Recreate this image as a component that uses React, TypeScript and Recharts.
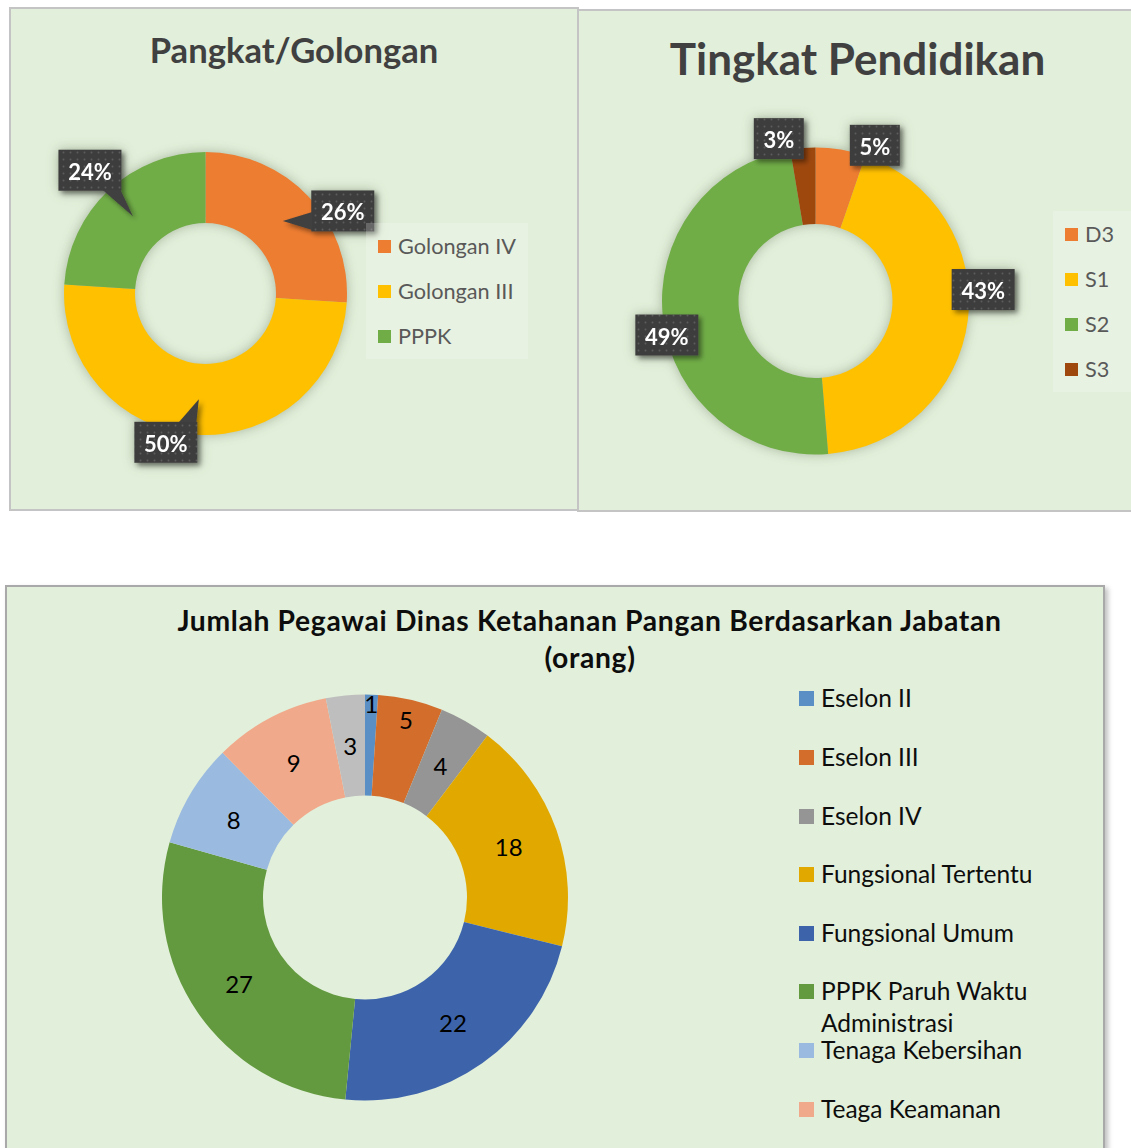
import React from 'react'
import { PieChart, Pie, Cell } from 'recharts'

const golonganLabels = ['Golongan IV', 'Golongan III', 'PPPK']
const golonganPersen = [26, 50, 24]

// slice angles match head counts out of 76 (shown as rounded percentages)
const pendidikanLabels = ['D3', 'S1', 'S2', 'S3']
const pendidikanJumlah = [4, 33, 37, 2]

const jabatanLabels = [
  'Eselon II',
  'Eselon III',
  'Eselon IV',
  'Fungsional Tertentu',
  'Fungsional Umum',
  'PPPK Paruh Waktu Administrasi',
  'Tenaga Kebersihan',
  'Teaga Keamanan',
  'Lainnya',
]
const jabatanJumlah = [1, 5, 4, 18, 22, 27, 8, 9, 3]

const golonganColors = ['#ED7D31', '#FFC000', '#70AD47']
const pendidikanColors = ['#ED7D31', '#FFC000', '#70AD47', '#9E480E']
const jabatanColors = [
  '#5A8FC6',
  '#D36D2C',
  '#959595',
  '#E1A900',
  '#3D64AB',
  '#639A3F',
  '#9ABAE0',
  '#F0A98A',
  '#BEBEBE',
]

// excel nudged some of the data labels away from their default spot
const golonganShift: [number, number][] = [[60, -10], [-33, 43], [-43, -46]]
const pendidikanShift: [number, number][] = [[32, 8], [3, -32], [16, 13.5], [-23, 3]]
const jabatanLift = [42, 30, 0, 0, 0, 0, 0, 0, 0]

const golonganData = golonganLabels.map((name, i) => ({ name, value: golonganPersen[i] }))
const pendidikanData = pendidikanLabels.map((name, i) => ({ name, value: pendidikanJumlah[i] }))
const jabatanData = jabatanLabels.map((name, i) => ({ name, value: jabatanJumlah[i] }))

const RADIAN = Math.PI / 180
const FONT = 'Lato, "Open Sans", sans-serif'
const NO_MARGIN = { top: 0, right: 0, bottom: 0, left: 0 }

function polar(cx: number, cy: number, r: number, angle: number) {
  return [cx + r * Math.cos(-angle * RADIAN), cy + r * Math.sin(-angle * RADIAN)]
}

function calloutLabel(shifts: [number, number][], pointer: boolean, reach: number) {
  return (props: any) => {
    const { cx, cy, midAngle, innerRadius, outerRadius, percent, index } = props
    const r = pointer ? (innerRadius + outerRadius) / 2 : outerRadius * reach
    const [ax, ay] = polar(cx, cy, r, midAngle)
    const [dx, dy] = shifts[index]
    const text = `${Math.round(percent * 100)}%`
    const w = text.length > 2 ? 63 : 50
    const h = 41
    const bx = ax + dx
    const by = ay + dy
    const left = bx - w / 2
    const top = by - h / 2
    let wedge: string | null = null
    if (pointer) {
      const half = 9
      if (Math.abs(ax - bx) / w > Math.abs(ay - by) / h) {
        const ex = ax < bx ? left + 1 : left + w - 1
        const my = Math.max(top + half + 1, Math.min(top + h - half - 1, ay))
        wedge = `${ax},${ay} ${ex},${my - half} ${ex},${my + half}`
      } else {
        const ey = ay < by ? top + 1 : top + h - 1
        const mx = Math.max(left + half + 1, Math.min(left + w - half - 1, ax))
        wedge = `${ax},${ay} ${mx - half},${ey} ${mx + half},${ey}`
      }
    }
    return (
      <g key={`callout-${index}`}>
        <g filter="url(#boxShadow)">
          {wedge && <polygon points={wedge} fill="#404040" />}
          <rect x={left} y={top} width={w} height={h} fill="url(#dotFill)" />
        </g>
        <text
          x={bx}
          y={by + 1}
          textAnchor="middle"
          dominantBaseline="central"
          fill="#FFFFFF"
          fontFamily={FONT}
          fontWeight={700}
          fontSize={22}
        >
          {text}
        </text>
      </g>
    )
  }
}

const jabatanLabel = (props: any) => {
  const { cx, cy, midAngle, innerRadius, outerRadius, value, index } = props
  const [x, y] = polar(cx, cy, (innerRadius + outerRadius) / 2 + jabatanLift[index], midAngle)
  return (
    <text
      key={`jab-${index}`}
      x={x}
      y={y}
      textAnchor="middle"
      dominantBaseline="central"
      fill="#000000"
      fontFamily={FONT}
      fontSize={24}
    >
      {value}
    </text>
  )
}

function Panel({ left, top, width, height, style, children }: any) {
  return (
    <div
      style={{
        position: 'absolute',
        left,
        top,
        width,
        height,
        boxSizing: 'border-box',
        background: '#E2EFDA',
        border: '2px solid #C4C4C4',
        overflow: 'hidden',
        ...style,
      }}
    >
      {children}
    </div>
  )
}

function Title({ text, x, top, size, color, spacing = 0 }: any) {
  return (
    <div
      style={{
        position: 'absolute',
        left: x - 500,
        top,
        width: 1000,
        textAlign: 'center',
        fontFamily: FONT,
        fontWeight: 700,
        fontSize: size,
        letterSpacing: spacing,
        lineHeight: 1.2,
        color,
        whiteSpace: 'nowrap',
      }}
    >
      {text}
    </div>
  )
}

function BoxLegend({ left, top, width, height, names, colors, rows }: any) {
  return (
    <div
      style={{
        position: 'absolute',
        left,
        top,
        width,
        height,
        background: 'rgba(255,255,255,0.22)',
      }}
    >
      {names.map((name: string, i: number) => (
        <div key={name} style={{ position: 'absolute', left: 12, top: rows[i] - 13 }}>
          <span
            style={{
              position: 'absolute',
              left: 0,
              top: 6.5,
              width: 13,
              height: 13,
              background: colors[i],
            }}
          />
          <span
            style={{
              position: 'absolute',
              left: 20,
              top: 0,
              fontFamily: FONT,
              fontSize: 21.7,
              lineHeight: '26px',
              color: '#595959',
              whiteSpace: 'nowrap',
            }}
          >
            {name}
          </span>
        </div>
      ))}
    </div>
  )
}

export default function App() {
  const glow = { filter: 'drop-shadow(0 0 6px rgba(60,75,50,0.35))' }
  // bottom legend: fixed row pitch, rows past the panel edge are not drawn
  const jabatanRows = jabatanLabels
    .map((name, i) => ({ name, color: jabatanColors[i], mid: 112 + i * 58.6 }))
    .filter((row) => row.mid < 545)
  return (
    <div
      style={{
        position: 'absolute',
        left: 0,
        top: 0,
        width: 1131,
        height: 1148,
        overflow: 'hidden',
        background: '#FFFFFF',
      }}
    >
      <svg width={0} height={0} style={{ position: 'absolute' }}>
        <defs>
          <pattern id="dotFill" width={7} height={7} patternUnits="userSpaceOnUse">
            <rect width={7} height={7} fill="#3E3E3E" />
            <circle cx={3.5} cy={3.5} r={0.9} fill="#5C5C5C" />
          </pattern>
          <filter id="boxShadow" x="-40%" y="-40%" width="180%" height="180%">
            <feDropShadow dx={3} dy={3} stdDeviation={2.5} floodColor="#000" floodOpacity={0.45} />
          </filter>
        </defs>
      </svg>

      {/* Pangkat/Golongan */}
      <Panel left={9} top={7} width={570} height={504}>
        <Title text="Pangkat/Golongan" x={283} top={20} size={34.6} color="#404040" />
        <div style={{ position: 'absolute', left: 0, top: 0, ...glow }}>
          <PieChart width={566} height={500} margin={NO_MARGIN}>
            <Pie
              data={golonganData}
              dataKey="value"
              cx={194.5}
              cy={284.5}
              innerRadius={70.5}
              outerRadius={141.5}
              startAngle={90}
              endAngle={-270}
              stroke="none"
              labelLine={false}
              label={calloutLabel(golonganShift, true, 1)}
              isAnimationActive={false}
            >
              {golonganData.map((d, i) => (
                <Cell key={d.name} fill={golonganColors[i]} />
              ))}
            </Pie>
          </PieChart>
        </div>
        <BoxLegend
          left={355}
          top={214}
          width={162}
          height={136}
          names={golonganLabels}
          colors={golonganColors}
          rows={[23, 68, 113]}
        />
      </Panel>

      {/* Tingkat Pendidikan */}
      <Panel left={577} top={9} width={560} height={503}>
        <Title text="Tingkat Pendidikan" x={278.5} top={20.6} size={44} color="#404040" />
        <div style={{ position: 'absolute', left: 0, top: 0, ...glow }}>
          <PieChart width={556} height={499} margin={NO_MARGIN}>
            <Pie
              data={pendidikanData}
              dataKey="value"
              cx={236.5}
              cy={290}
              innerRadius={77}
              outerRadius={153.5}
              startAngle={90}
              endAngle={-270}
              stroke="none"
              labelLine={false}
              label={calloutLabel(pendidikanShift, false, 1.081)}
              isAnimationActive={false}
            >
              {pendidikanData.map((d, i) => (
                <Cell key={d.name} fill={pendidikanColors[i]} />
              ))}
            </Pie>
          </PieChart>
        </div>
        <BoxLegend
          left={474}
          top={200}
          width={90}
          height={181}
          names={pendidikanLabels}
          colors={pendidikanColors}
          rows={[23, 68, 113, 158]}
        />
      </Panel>

      {/* Jabatan */}
      <Panel
        left={5}
        top={585}
        width={1100}
        height={580}
        style={{ border: '2px solid #A9A9A9', boxShadow: '3px 3px 5px rgba(0,0,0,0.25)', overflow: 'visible' }}
      >
        <Title
          text="Jumlah Pegawai Dinas Ketahanan Pangan Berdasarkan Jabatan"
          x={582.5}
          top={17.4}
          size={28.3}
          spacing={0.65}
          color="#0D0D0D"
        />
        <Title text="(orang)" x={583} top={54.4} size={28.3} spacing={0.65} color="#0D0D0D" />
        <div style={{ position: 'absolute', left: 0, top: 0 }}>
          <PieChart width={760} height={576} margin={NO_MARGIN}>
            <Pie
              data={jabatanData}
              dataKey="value"
              cx={358}
              cy={310.5}
              innerRadius={102}
              outerRadius={203}
              startAngle={90}
              endAngle={-270}
              stroke="none"
              labelLine={false}
              label={jabatanLabel}
              isAnimationActive={false}
            >
              {jabatanData.map((d, i) => (
                <Cell key={d.name} fill={jabatanColors[i]} />
              ))}
            </Pie>
          </PieChart>
        </div>
        {jabatanRows.map((row) => (
          <div key={row.name} style={{ position: 'absolute', left: 792, top: row.mid - 16.6, width: 280 }}>
            <span
              style={{
                position: 'absolute',
                left: 0,
                top: 9,
                width: 15,
                height: 15,
                background: row.color,
              }}
            />
            <div
              style={{
                position: 'absolute',
                left: 22,
                top: 0,
                width: 250,
                fontFamily: FONT,
                fontSize: 24.5,
                lineHeight: '32px',
                color: '#0D0D0D',
              }}
            >
              {row.name}
            </div>
          </div>
        ))}
      </Panel>
    </div>
  )
}
